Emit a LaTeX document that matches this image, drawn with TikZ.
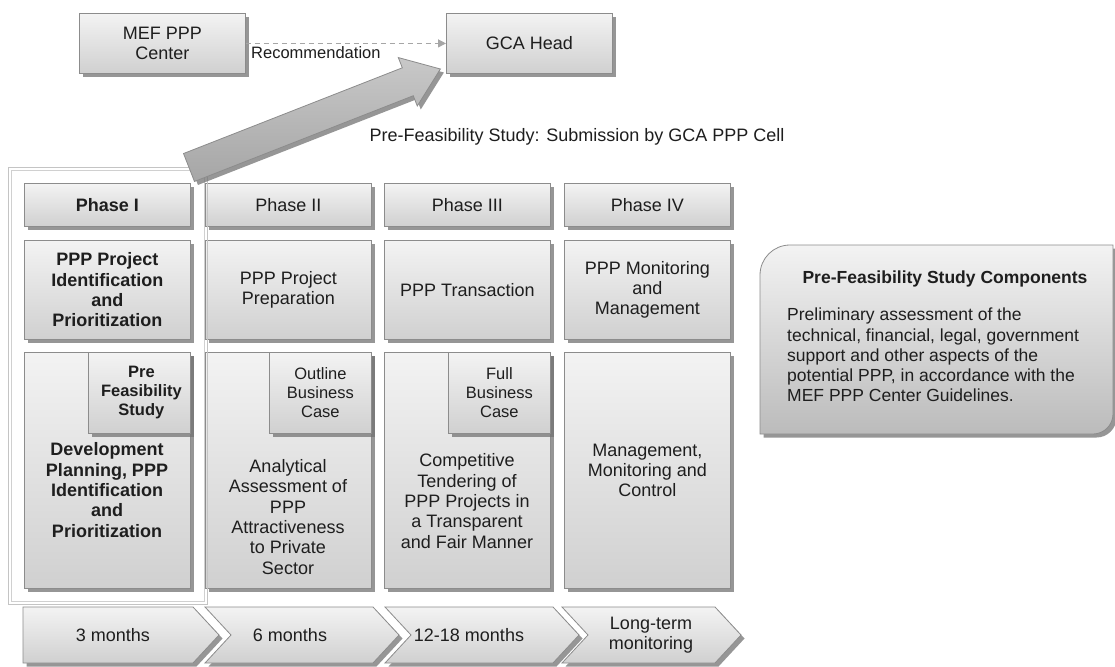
\documentclass[tikz,border=0pt]{standalone}
\usepackage{fontspec}
\setmainfont{Liberation Sans}
\usetikzlibrary{shadows,arrows.meta,calc}
\definecolor{boxtop}{HTML}{F3F3F3}
\definecolor{boxbot}{HTML}{D0D0D0}
\definecolor{boxline}{HTML}{8C8C8C}
\definecolor{ink}{HTML}{1E1E1E}
\definecolor{arrtop}{HTML}{C8C8C8}
\definecolor{arrbot}{HTML}{A6A6A6}
\definecolor{frameline}{HTML}{C4C4C4}
\begin{document}
\begin{tikzpicture}[x=1pt,y=-1pt,
  shade/.style={drop shadow={shadow xshift=3.5pt,shadow yshift=-3.5pt,fill=black!55,opacity=0.75}},
  box/.style={shade,draw=boxline,line width=0.8pt,top color=boxtop,bottom color=boxbot,
    anchor=north west,inner sep=0pt,align=center,text=ink,
    font=\fontsize{18}{20.3}\selectfont},
  subbox/.style={box,anchor=north east,minimum width=102pt,minimum height=81pt,
    font=\fontsize{16.5}{19}\selectfont},
  txt/.style={align=center,text=ink,inner sep=0pt,font=\fontsize{18}{20.3}\selectfont},
  chev/.style={shade,draw=boxline,line width=0.8pt,top color=boxtop,bottom color=boxbot},
  bigarrow/.style={shade,draw=black!45,line width=0.8pt,top color=arrtop,bottom color=arrbot},
  callout/.style={shade,draw=boxline,line width=0.8pt,top color=boxtop,bottom color=boxbot!90!black}]

\useasboundingbox[fill=white] (0,0) rectangle (1115,666);

% top row: recommending body and approving head
\node[box,minimum width=166pt,minimum height=60pt] (mef) at (79,13) {MEF PPP\\Center};
\node[box,minimum width=166pt,minimum height=60pt] (gca) at (446,13) {GCA Head};
\draw[dashed,line width=1.2pt,draw=black!35,dash pattern=on 5pt off 4pt,
  -{Triangle[length=8pt,width=8pt]}] (mef.east) -- (gca.west)
  node[pos=0.35,below=3pt,txt,font=\fontsize{16.5}{19}\selectfont] (rec) {Recommendation};

\node[txt] (sub) at (577,137) {Pre-Feasibility Study: Submission by GCA PPP Cell};

% phase grid
\node[box,minimum width=166pt,minimum height=43pt,font=\bfseries\fontsize{18}{20.3}\selectfont] (h1) at (24,183) {Phase I};
\node[box,minimum width=166pt,minimum height=43pt] (h2) at (205,183) {Phase II};
\node[box,minimum width=166pt,minimum height=43pt] (h3) at (384,183) {Phase III};
\node[box,minimum width=166pt,minimum height=43pt] (h4) at (564,183) {Phase IV};

\node[box,minimum width=166pt,minimum height=99pt,font=\bfseries\fontsize{18}{20.3}\selectfont] (m1) at (24,240) {PPP Project\\Identification\\and\\Prioritization};
\node[box,minimum width=166pt,minimum height=99pt] (m2) at (205,240) {PPP Project\\Preparation};
\node[box,minimum width=166pt,minimum height=99pt] (m3) at (384,240) {PPP Transaction};
\node[box,minimum width=166pt,minimum height=99pt] (m4) at (564,240) {PPP Monitoring\\and\\Management};

\node[box,minimum width=166pt,minimum height=236pt] (b1) at (24,352) {};
\node[box,minimum width=166pt,minimum height=236pt] (b2) at (205,352) {};
\node[box,minimum width=166pt,minimum height=236pt] (b3) at (384,352) {};
\node[box,minimum width=166pt,minimum height=236pt] (b4) at (564,352) {Management,\\Monitoring and\\Control};

\node[subbox,font=\bfseries\fontsize{16.5}{19}\selectfont] (s1) at (b1.north east) {\hspace*{4pt}Pre\\\hspace*{4pt}Feasibility\\\hspace*{4pt}Study};
\node[subbox] (s2) at (b2.north east) {Outline\\Business\\Case};
\node[subbox] (s3) at (b3.north east) {Full\\Business\\Case};

\node[txt,font=\bfseries\fontsize{18}{20.3}\selectfont] (t1) at (107,490) {Development\\Planning, PPP\\Identification\\and\\Prioritization};
\node[txt] (t2) at (288,517) {Analytical\\Assessment of\\PPP\\Attractiveness\\to Private\\Sector};
\node[txt] (t3) at (467,501) {Competitive\\Tendering of\\PPP Projects in\\a Transparent\\and Fair Manner};

% highlight frame around phase I
\draw[frameline,line width=0.9pt] (8,167) rectangle (207,604);
\draw[frameline!80!white,line width=0.9pt] (11,170) rectangle (204,601);

% submission arrow from phase I up to the head
\begin{scope}[shift={(189,167.5)},rotate=21.4]
  \path[bigarrow] (0,-15) -- (235,-15) -- (235,-26) -- (270,0) -- (235,26) -- (235,15) -- (0,15) -- cycle;
\end{scope}

% duration chevrons
\path[chev] (23,607) -- (193,607) -- (219,635) -- (193,663) -- (23,663) -- cycle;
\path[chev] (205,607) -- (373,607) -- (399,635) -- (373,663) -- (205,663) -- (231,635) -- cycle;
\path[chev] (385,607) -- (553,607) -- (579,635) -- (553,663) -- (385,663) -- (411,635) -- cycle;
\path[chev] (562,607) -- (715,607) -- (741,635) -- (715,663) -- (562,663) -- (588,635) -- cycle;
\node[txt] (d1) at (113,635) {3 months};
\node[txt] (d2) at (290,635) {6 months};
\node[txt] (d3) at (469,635) {12-18 months};
\node[txt] (d4) at (651,635) {Long-term\\monitoring};

% components callout
\path[callout] (760,434) -- (760,275) .. controls (760,258.4) and (773.4,245) .. (790,245)
  -- (1113,245) -- (1113,414) .. controls (1113,425) and (1104,434) .. (1093,434) -- cycle;
\node[txt,font=\bfseries\fontsize{17.5}{20}\selectfont] (ct) at (945,279) {Pre-Feasibility Study Components};
\node[txt,align=left,anchor=north west,font=\fontsize{17.5}{20.2}\selectfont] (cb) at (787,308)
  {Preliminary assessment of the\\technical, financial, legal, government\\support and other aspects of the\\potential PPP, in accordance with the\\MEF PPP Center Guidelines.};
\end{tikzpicture}
\end{document}
